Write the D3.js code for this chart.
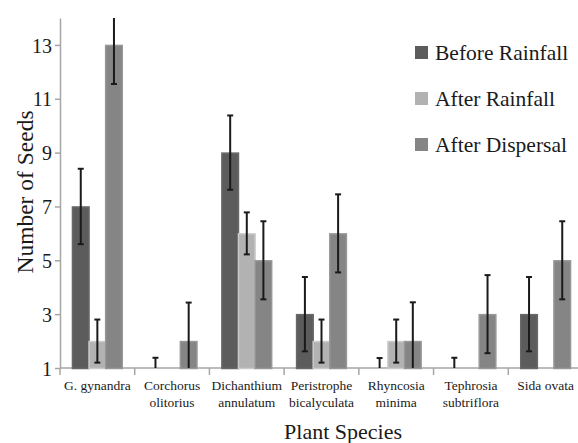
<!DOCTYPE html>
<html>
<head>
<meta charset="utf-8">
<script src="https://cdn.jsdelivr.net/npm/d3@7"></script>
</head>
<body style="margin:0; background:#fff">
<div id="graf"></div>
<script>
// data
const especies = ['G. gynandra', 'Corchorus olitorius', 'Dichanthium annulatum',
  'Peristrophe bicalyculata', 'Rhyncosia minima', 'Tephrosia subtriflora', 'Sida ovata']
const etiquetas = [['G. gynandra'], ['Corchorus', 'olitorius'], ['Dichanthium', 'annulatum'],
  ['Peristrophe', 'bicalyculata'], ['Rhyncosia', 'minima'], ['Tephrosia', 'subtriflora'], ['Sida ovata']]
const series = ['Before Rainfall', 'After Rainfall', 'After Dispersal']
const antesLluvia = [7, 1, 9, 3, 1, 1, 3]
const despuesLluvia = [2, 1, 6, 2, 2, 1, 1]
const despuesDispersion = [13, 2, 5, 6, 2, 3, 5]
const errAntes = [1.4, 0.38, 1.38, 1.38, 0.37, 0.38, 1.38]
const errDespues = [0.8, 0, 0.78, 0.8, 0.8, 0, 0]
const errDispersion = [1.45, 1.43, 1.45, 1.45, 1.44, 1.45, 1.45]
const yTicks = [1, 3, 5, 7, 9, 11, 13]
const colores = ['#5c5c5c', '#b2b2b2', '#858585']
const fuente = "'Liberation Serif', 'Times New Roman', serif"

const anchoTotal = 578
const altoTotal = 443
const margin = { top: 18, bottom: 75, left: 60, right: -5 }
const ancho = anchoTotal - margin.left - margin.right
const alto = altoTotal - margin.top - margin.bottom

const svg = d3.select('#graf')
  .append('svg')
  .attr('width', anchoTotal)
  .attr('height', altoTotal)
  .style('display', 'block')

const g = svg.append('g')
  .attr('transform', `translate(${margin.left}, ${margin.top})`)

const valores = [antesLluvia, despuesLluvia, despuesDispersion]
const errores = [errAntes, errDespues, errDispersion]
const datos = []
especies.forEach((e, i) => {
  series.forEach((s, j) => {
    datos.push({ especie: e, serie: s, valor: valores[j][i], err: errores[j][i], c: colores[j] })
  })
})

const x = d3.scaleBand().domain(especies).range([0, ancho]).padding(0)
const x1 = d3.scaleBand().domain(series)
  .range([x.bandwidth() / 6, x.bandwidth() * 5 / 6]).padding(0)
const y = d3.scaleLinear().domain([1, 14]).range([alto, 0])

const defs = svg.append('defs')
defs.append('clipPath').attr('id', 'area')
  .append('rect').attr('x', 0).attr('y', 0).attr('width', ancho).attr('height', alto)
defs.append('clipPath').attr('id', 'areaBarras')
  .append('rect').attr('x', 0).attr('y', 0).attr('width', ancho).attr('height', alto + 3)

// axes
const yAxisGroup = g.append('g')
  .call(d3.axisLeft(y).tickValues(yTicks).tickSize(5).tickSizeOuter(0).tickPadding(3))
yAxisGroup.attr('font-size', 20)
yAxisGroup.selectAll('text').attr('dy', '0.36em')

const xAxisGroup = g.append('g')
  .attr('transform', `translate(0, ${alto})`)
xAxisGroup.append('path').attr('d', `M0,0H${ancho}`)
xAxisGroup.selectAll('line')
  .data(d3.range(especies.length))
  .enter()
  .append('line')
  .attr('x1', i => i * x.step())
  .attr('x2', i => i * x.step())
  .attr('y1', 0)
  .attr('y2', 7)
xAxisGroup.selectAll('text.cat')
  .data(especies)
  .enter()
  .append('text')
  .attr('class', 'cat')
  .attr('text-anchor', 'middle')
  .attr('font-size', 13.5)
  .attr('x', d => x(d) + x.bandwidth() / 2)
  .attr('y', 22)
  .selectAll('tspan')
  .data((d, i) => etiquetas[i])
  .enter()
  .append('tspan')
  .attr('x', function () { return this.parentNode.getAttribute('x') })
  .attr('dy', (d, k) => k === 0 ? 0 : 16.8)
  .text(d => d)

g.selectAll('path, line')
  .attr('stroke', '#a6a6a6')
  .attr('stroke-width', 1.5)
  .attr('fill', 'none')

// bars (drawn over the axis so the flat ones show)
const barras = g.append('g').attr('clip-path', 'url(#areaBarras)')
barras.selectAll('rect.barra')
  .data(datos)
  .enter()
  .append('rect')
  .attr('class', 'barra')
  .attr('x', d => x(d.especie) + x1(d.serie))
  .attr('y', d => y(d.valor) + 0.5)
  .attr('width', x1.bandwidth())
  .attr('height', d => alto - y(d.valor))
  .attr('fill', d => d.c)
  .attr('stroke', d => d3.color(d.c).brighter(0.35))
  .attr('stroke-width', 1.5)

// error bars
const err = g.append('g').attr('clip-path', 'url(#area)')
  .selectAll('g.err')
  .data(datos.filter(d => d.err > 0))
  .enter()
  .append('g')
  .attr('class', 'err')
  .attr('stroke', '#1a1a1a')
  .attr('stroke-width', 2)
const cx = d => x(d.especie) + x1(d.serie) + x1.bandwidth() / 2
err.append('line')
  .attr('x1', cx).attr('x2', cx)
  .attr('y1', d => y(d.valor - d.err)).attr('y2', d => y(d.valor + d.err))
err.append('line')
  .attr('x1', d => cx(d) - 3).attr('x2', d => cx(d) + 3)
  .attr('y1', d => y(d.valor + d.err)).attr('y2', d => y(d.valor + d.err))
err.append('line')
  .attr('x1', d => cx(d) - 3).attr('x2', d => cx(d) + 3)
  .attr('y1', d => y(d.valor - d.err)).attr('y2', d => y(d.valor - d.err))

// titles
svg.append('text')
  .attr('text-anchor', 'middle')
  .attr('font-size', 22)
  .attr('x', 343)
  .attr('y', 439)
  .text('Plant Species')

svg.append('text')
  .attr('text-anchor', 'middle')
  .attr('font-size', 23.5)
  .attr('transform', 'translate(33, 192) rotate(-90)')
  .text('Number of Seeds')

// legend
const leyenda = svg.append('g')
  .attr('transform', 'translate(415, 46)')
  .selectAll('g')
  .data(series)
  .enter()
  .append('g')
  .attr('transform', (d, i) => `translate(0, ${i * 46})`)
leyenda.append('rect')
  .attr('width', 13).attr('height', 13)
  .attr('fill', (d, i) => colores[i])
leyenda.append('text')
  .attr('x', 20)
  .attr('y', 14)
  .attr('font-size', 21.5)
  .text(d => d)

svg.selectAll('text')
  .style('font-family', fuente)
  .attr('fill', '#1a1a1a')
</script>
</body>
</html>
